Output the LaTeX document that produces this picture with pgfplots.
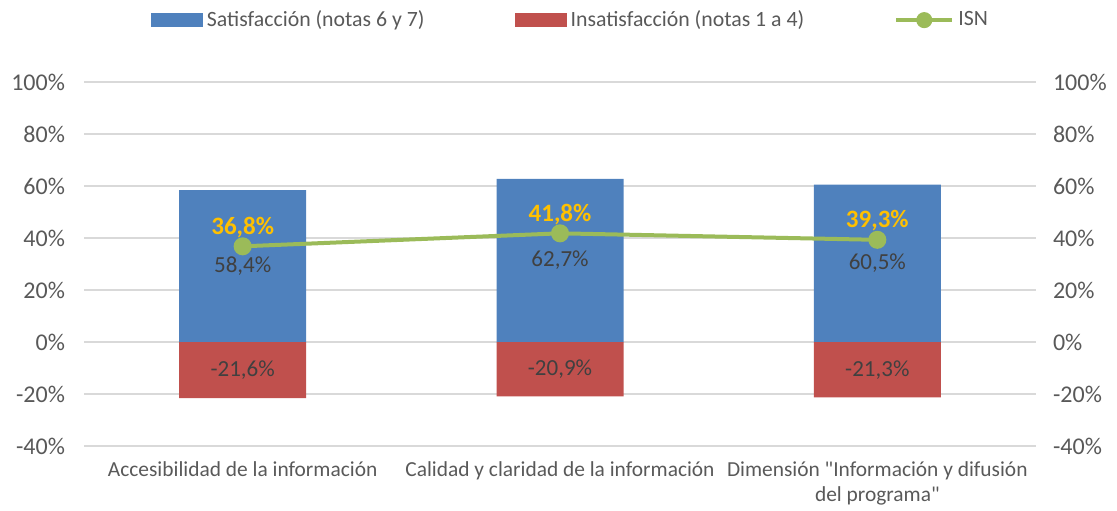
\documentclass[border=0pt]{standalone}
\usepackage{fontspec}
\setmainfont{Carlito}[Ligatures=TeXOff]
\usepackage{pgfplots}
\usepackage{pgfplotstable}
\pgfplotsset{compat=1.18}
\definecolor{satblue}{HTML}{4F81BD}
\definecolor{insred}{HTML}{C0504D}
\definecolor{isngreen}{HTML}{9BBB59}
\definecolor{gold}{HTML}{FFC000}
\definecolor{ticktxt}{HTML}{595959}
\definecolor{lbltxt}{HTML}{404040}
\definecolor{gridgray}{HTML}{D9D9D9}

\pgfplotstableread{
x sat ins isn
0 58.4 -21.6 36.8
1 62.7 -20.9 41.8
2 60.5 -21.3 39.3
}\datatable

\begin{document}
\begin{tikzpicture}
\useasboundingbox (0,0) rectangle (558.5pt,255pt);
\pgfplotsset{
  base/.style={
    at={(42pt,32pt)}, anchor=south west,
    scale only axis, width=476pt, height=182pt,
    xmin=-0.5, xmax=2.5, ymin=-40, ymax=100,
    ytick={-40,-20,0,20,40,60,80,100},
    /pgf/number format/assume math mode=true,
    yticklabel={\pgfmathprintnumber{\tick}\%},
    axis line style={draw=none}, major tick style={draw=none},
    yticklabel style={font=\fontsize{12}{14}\selectfont, text=ticktxt},
    xticklabel style={font=\fontsize{10.7}{12.5}\selectfont, text=ticktxt},
  },
  satleg/.style={legend image code/.code={\fill[satblue] (0pt,-3.4pt) rectangle (26pt,3.4pt);}},
  insleg/.style={legend image code/.code={\fill[insred] (0pt,-3.4pt) rectangle (26pt,3.4pt);}},
  isnleg/.style={legend image code/.code={
    \draw[isngreen, line width=2pt] (0pt,0pt) -- (28pt,0pt);
    \fill[isngreen] (14pt,0pt) circle (3pt);}},
  vallabel/.style={draw=none, mark=none, forget plot, point meta=explicit,
    nodes near coords={\pgfmathprintnumber[fixed, fixed zerofill, precision=1, use comma]{\pgfplotspointmeta}\%},
    every node near coord/.style={anchor=center, text=lbltxt, font=\fontsize{11.5}{13}\selectfont}},
}
% right-hand tick labels
\begin{axis}[base, hide x axis, yticklabel pos=right,
  yticklabel style={xshift=5pt}]
\addplot[draw=none] coordinates {(0,0)};
\end{axis}

\begin{axis}[base,
  yticklabel style={xshift=-6pt},
  xtick={0,1,2},
  xticklabels={Accesibilidad de la información, Calidad y claridad de la información, {Dimensión "Información y difusión\\del programa"}},
  xticklabel style={align=center, yshift=-4.5pt},
  ymajorgrids, grid style={color=gridgray, line width=0.7pt},
  legend columns=3, legend cell align=left,
  legend style={at={(0.512,1.17)}, anchor=center, draw=none, fill=none,
    font=\fontsize{10.9}{12}\selectfont, text=ticktxt,
    /tikz/every odd column/.append style={column sep=0pt},
    /tikz/every even column/.append style={column sep=43pt}},
]
\addplot[fill=satblue, draw=none, ybar, bar width=63.5pt, bar shift=0pt, satleg]
  table[x=x, y=sat] {\datatable};
\addlegendentry{Satisfacción (notas 6 y 7)}
\addplot[fill=insred, draw=none, ybar, bar width=63.5pt, bar shift=0pt, insleg]
  table[x=x, y=ins] {\datatable};
\addlegendentry{Insatisfacción (notas 1 a 4)}
% bar value labels at bar centres
\addplot[vallabel] table[x=x, y expr=\thisrow{sat}/2, meta=sat] {\datatable};
\addplot[vallabel] table[x=x, y expr=\thisrow{ins}/2, meta=ins] {\datatable};
% ISN line
\addplot[color=isngreen, line width=2pt, mark=*, mark size=3.5pt,
  mark options={fill=isngreen, draw=isngreen}, isnleg,
  point meta=y,
  nodes near coords={\pgfmathprintnumber[fixed, fixed zerofill, precision=1, use comma]{\pgfplotspointmeta}\%},
  every node near coord/.style={anchor=south, yshift=0pt, text=gold, font=\bfseries\fontsize{12.5}{14}\selectfont}]
  table[x=x, y=isn] {\datatable};
\addlegendentry{ISN}
\end{axis}
\end{tikzpicture}
\end{document}
